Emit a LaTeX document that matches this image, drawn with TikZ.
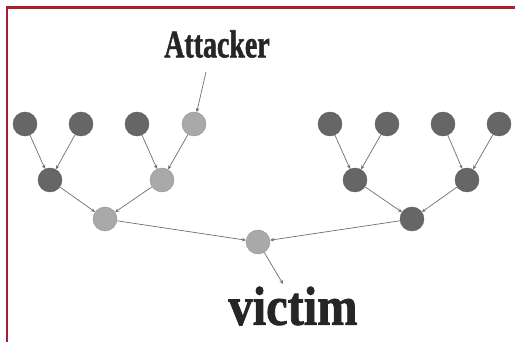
\documentclass[tikz,border=0pt]{standalone}
\usepackage{fontspec}
\setmainfont{Liberation Serif}
\usetikzlibrary{arrows.meta}
\definecolor{frame}{HTML}{A8202F}
\definecolor{darknode}{HTML}{666666}
\definecolor{lightnode}{HTML}{A9A9A9}
\definecolor{edgegray}{HTML}{6E6E6E}
\tikzset{
  hostdark/.style={circle,minimum size=24pt,inner sep=0pt,fill=darknode,draw=darknode!85!black,line width=0.4pt},
  hostlight/.style={circle,minimum size=24pt,inner sep=0pt,fill=lightnode,draw=lightnode!85!black,line width=0.4pt},
  link/.style={draw=edgegray,line width=0.7pt,-{Stealth[length=4pt,width=3.5pt]}},
  wordart/.style={inner sep=0pt,text=black!85}
}
\begin{document}
\begin{tikzpicture}[x=1pt,y=-1pt]
\useasboundingbox (0,0) rectangle (515,342);
% frame: top and left rules
\draw[frame,line width=2.6pt] (7,342) -- (7,7.5) -- (515,7.5);

% labels
\node[wordart,font=\bfseries\fontsize{30}{30}\selectfont\addfontfeature{FakeBold=1.5},xscale=0.93,yscale=1.3] (att) at (217,44) {Attacker};
\node[wordart,font=\bfseries\fontsize{44}{44}\selectfont\addfontfeature{FakeBold=1.5},xscale=1.1,yscale=1.25] (vic) at (293,306) {victim};

% top row
\node[hostdark]  (a1) at (25,124) {};
\node[hostdark]  (a2) at (81,124) {};
\node[hostdark]  (a3) at (137,124) {};
\node[hostlight] (a4) at (194,124) {};
\node[hostdark]  (a5) at (330,124) {};
\node[hostdark]  (a6) at (387,124) {};
\node[hostdark]  (a7) at (443,124) {};
\node[hostdark]  (a8) at (499,124) {};
% second row
\node[hostdark]  (b1) at (50,180) {};
\node[hostlight] (b2) at (162,180) {};
\node[hostdark]  (b3) at (355,180) {};
\node[hostdark]  (b4) at (467,180) {};
% third row
\node[hostlight] (c1) at (105,219) {};
\node[hostdark]  (c2) at (412,219) {};
% last hop
\node[hostlight] (d)  at (258,242) {};

% free ends of the outer connectors
\coordinate (attfoot) at (206,72);
\coordinate (victop) at (283,284);

% connectors
\draw[link] (attfoot) -- (a4);
\draw[link] (a1) -- (b1);
\draw[link] (a2) -- (b1);
\draw[link] (a3) -- (b2);
\draw[link] (a4) -- (b2);
\draw[link] (a5) -- (b3);
\draw[link] (a6) -- (b3);
\draw[link] (a7) -- (b4);
\draw[link] (a8) -- (b4);
\draw[link] (b1) -- (c1);
\draw[link] (b2) -- (c1);
\draw[link] (b3) -- (c2);
\draw[link] (b4) -- (c2);
\draw[link] (c1) -- (d);
\draw[link] (c2) -- (d);
\draw[link] (d) -- (victop);
\end{tikzpicture}
\end{document}
